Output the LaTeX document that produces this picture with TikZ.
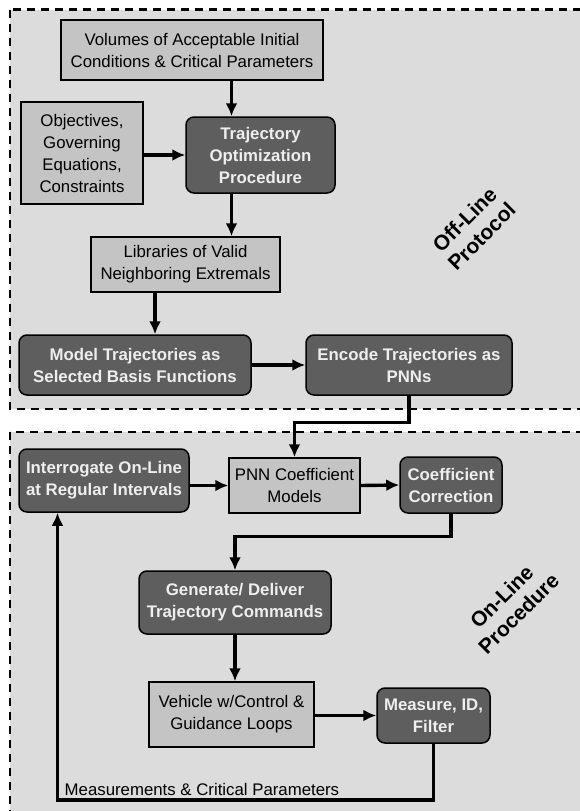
\documentclass[tikz,border=0pt]{standalone}
\usepackage{fontspec}
\setmainfont{Liberation Sans}
\usepackage{tikz}
\usetikzlibrary{arrows.meta,positioning,calc}

\definecolor{panelgray}{HTML}{DCDCDC}
\definecolor{lightbox}{HTML}{C4C4C4}
\definecolor{darkbox}{HTML}{5E5E5E}
\definecolor{darktext}{HTML}{EEEEEE}

\begin{document}
\begin{tikzpicture}[x=1pt,y=-1pt,>={Latex[length=13pt,width=12pt]}]
  \tikzstyle{panel}=[draw,line width=2.8pt,dash pattern=on 8pt off 6pt,fill=panelgray]
  \tikzstyle{plain}=[draw,line width=1.5pt,fill=lightbox,inner sep=0pt,align=center,font=\fontsize{16.8}{22}\selectfont]
  \tikzstyle{task}=[draw,line width=1.5pt,rounded corners=8pt,fill=darkbox,inner sep=0pt,align=center,text=darktext,font=\fontsize{16.8}{22}\selectfont\bfseries]
  \tikzstyle{arr}=[->,line width=3.4pt]
  \tikzstyle{phase}=[rotate=45,align=center,font=\fontsize{21}{24}\selectfont\bfseries]
  \useasboundingbox (0,0) rectangle (580,811);
  % panels
  \draw[panel] (10,9.5) rectangle (610,409);
  \draw[panel] (10,432) rectangle (610,840);
  \node[phase] (offl) at (473,228) {Off-Line\\Protocol};
  \node[phase] (onl) at (510,605) {On-Line\\Procedure};
  % off-line blocks
  \node[plain,minimum width=262pt,minimum height=60pt] (vol) at (192,50) {Volumes of Acceptable Initial\\Conditions \& Critical Parameters};
  \node[plain,minimum width=122pt,minimum height=102pt] (obj) at (82,153) {Objectives,\\Governing\\Equations,\\Constraints};
  \node[task,minimum width=149pt,minimum height=76pt] (opt) at (260.5,155) {Trajectory\\Optimization\\Procedure};
  \node[plain,minimum width=189pt,minimum height=55pt] (lib) at (185.5,264.5) {Libraries of Valid\\Neighboring Extremals};
  \node[task,minimum width=232pt,minimum height=60pt] (model) at (135,365) {Model Trajectories as\\Selected Basis Functions};
  \node[task,minimum width=206pt,minimum height=60pt] (enc) at (409,365) {Encode Trajectories as\\PNNs};
  % on-line blocks
  \node[task,minimum width=170pt,minimum height=63pt] (intr) at (104,480.5) {Interrogate On-Line\\at Regular Intervals};
  \node[plain,minimum width=131pt,minimum height=55pt] (pnn) at (294.5,485.5) {PNN Coefficient\\Models};
  \node[task,minimum width=102pt,minimum height=56pt] (coef) at (451,485) {Coefficient\\Correction};
  \node[task,minimum width=192pt,minimum height=63pt] (gen) at (235,602.5) {Generate/ Deliver\\Trajectory Commands};
  \node[plain,minimum width=165pt,minimum height=65pt] (veh) at (231.5,714.5) {Vehicle w/Control \&\\Guidance Loops};
  \node[task,minimum width=113pt,minimum height=55pt] (meas) at (433.5,715.5) {Measure, ID,\\Filter};
  \coordinate (fb) at (57.5,800);
  % connectors
  \draw[arr] ([xshift=-29pt]opt.north |- vol.south) -- ([xshift=-29pt]opt.north);
  \draw[arr] (obj.east |- opt.west) -- (opt.west);
  \draw[arr] ([xshift=-29pt]opt.south) -- ([xshift=-29pt]opt.south |- lib.north);
  \draw[arr] ([xshift=20pt]model.north |- lib.south) -- ([xshift=20pt]model.north);
  \draw[arr] (model.east) -- (enc.west);
  \draw[arr] (enc.south) -- ++(0,27) -| (pnn.north);
  \draw[arr] (pnn.west -| intr.east) -- (pnn.west);
  \draw[arr] (pnn.east) -- (coef.west);
  \draw[arr] (coef.south) -- ++(0,23) -| (gen.north);
  \draw[arr] (gen.south) -- (gen.south |- veh.north);
  \draw[arr] (veh.east |- meas.west) -- (meas.west);
  \draw[arr] (meas.south) |- (fb) -- (fb |- intr.south);
  \node[anchor=base west,inner sep=0pt,font=\fontsize{16.8}{22}\selectfont] (fblab) at ([xshift=7pt,yshift=5pt]fb) {Measurements \& Critical Parameters};
\end{tikzpicture}
\end{document}
